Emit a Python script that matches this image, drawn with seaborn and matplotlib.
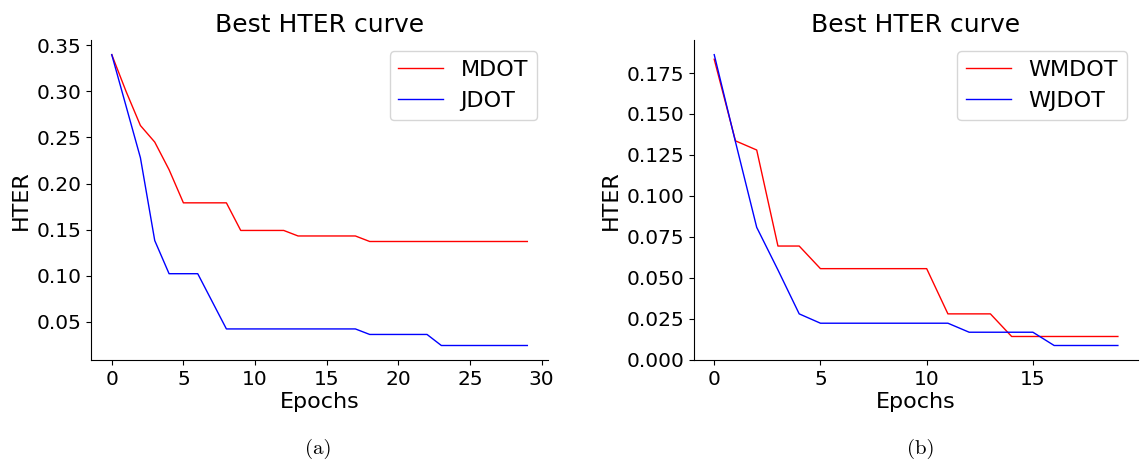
import numpy as np
import pandas as pd
import matplotlib
matplotlib.use("Agg")
import matplotlib.pyplot as plt
from matplotlib.ticker import MultipleLocator
import seaborn as sns

# datos
mdot = [0.340, 0.300, 0.263, 0.245, 0.215, 0.179, 0.179, 0.179, 0.179, 0.149,
        0.149, 0.149, 0.149, 0.143, 0.143, 0.143, 0.143, 0.143, 0.137, 0.137,
        0.137, 0.137, 0.137, 0.137, 0.137, 0.137, 0.137, 0.137, 0.137, 0.137]
jdot = [0.340, 0.284, 0.228, 0.138, 0.102, 0.102, 0.102, 0.072, 0.042, 0.042,
        0.042, 0.042, 0.042, 0.042, 0.042, 0.042, 0.042, 0.042, 0.036, 0.036,
        0.036, 0.036, 0.036, 0.024, 0.024, 0.024, 0.024, 0.024, 0.024, 0.024]
wmdot = [0.1834, 0.1336, 0.1280, 0.0694, 0.0694, 0.0556, 0.0556, 0.0556, 0.0556, 0.0556,
         0.0556, 0.0280, 0.0280, 0.0280, 0.0142, 0.0142, 0.0142, 0.0142, 0.0142, 0.0142]
wjdot = [0.1862, 0.1330, 0.0808, 0.0548, 0.0280, 0.0223, 0.0223, 0.0223, 0.0223, 0.0223,
         0.0223, 0.0223, 0.0168, 0.0168, 0.0168, 0.0168, 0.0087, 0.0087, 0.0087, 0.0087]

# estilo por defecto de matplotlib (texto negro), sin marco superior/derecho
plt.rcParams['font.family'] = ['DejaVu Sans']

fig = plt.figure(figsize=(11.4, 4.61), dpi=100)
ax1 = fig.add_axes([0.0798, 0.219, 0.401, 0.694])
ax2 = fig.add_axes([0.6088, 0.219, 0.3895, 0.694])

# panel (a)
sns.lineplot(x=np.arange(len(mdot)), y=mdot, color="red", linewidth=1, label="MDOT", ax=ax1)
sns.lineplot(x=np.arange(len(jdot)), y=jdot, color="blue", linewidth=1, label="JDOT", ax=ax1)
ax1.set_xticks([0, 5, 10, 15, 20, 25, 30])
ax1.yaxis.set_major_locator(MultipleLocator(0.05))

# panel (b)
sns.lineplot(x=np.arange(len(wmdot)), y=wmdot, color="red", linewidth=1, label="WMDOT", ax=ax2)
sns.lineplot(x=np.arange(len(wjdot)), y=wjdot, color="blue", linewidth=1, label="WJDOT", ax=ax2)
ax2.set_xticks([0, 5, 10, 15])
ax2.yaxis.set_major_locator(MultipleLocator(0.025))

for ax in [ax1, ax2]:
    ax.set_title("Best HTER curve", fontsize=18)
    ax.set_xlabel("Epochs", fontsize=16, labelpad=2)
    ax.set_ylabel("HTER", fontsize=16)
    ax.tick_params(labelsize=14.5)
    ax.legend(loc="upper right", fontsize=16)
    sns.despine(ax=ax)

fig.text(0.279, 0.015, "(a)", fontsize=15, family="cmr10", ha="center")
fig.text(0.808, 0.015, "(b)", fontsize=15, family="cmr10", ha="center")

fig.savefig("out.png", dpi=100)
